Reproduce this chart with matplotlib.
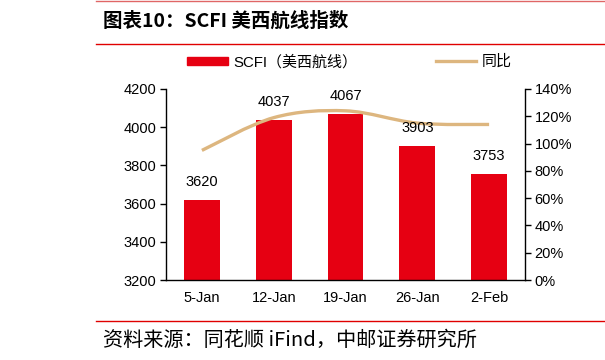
import matplotlib
matplotlib.use('Agg')
import matplotlib.pyplot as plt
from matplotlib.path import Path
from matplotlib.patches import PathPatch, Patch
from matplotlib.lines import Line2D

plt.rcParams['font.family'] = ['Liberation Sans', 'Noto Sans CJK SC', 'DejaVu Sans']

# data
weeks = ['5-Jan', '12-Jan', '19-Jan', '26-Jan', '2-Feb']
scfi = [3620, 4037, 4067, 3903, 3753]
yoy = [95, 119, 124, 115, 114]

bar_color = '#E60012'
line_color = '#DDB67F'


def smooth_path(xs, ys):
    # bezier segments through the points (catmull-rom style, like excel smoothing)
    pts = list(zip(xs, ys))
    verts = [pts[0]]
    codes = [Path.MOVETO]
    n = len(pts)
    for i in range(n - 1):
        p0 = pts[i - 1] if i > 0 else pts[i]
        p1 = pts[i]
        p2 = pts[i + 1]
        p3 = pts[i + 2] if i + 2 < n else pts[i + 1]
        c1 = (p1[0] + (p2[0] - p0[0]) / 6, p1[1] + (p2[1] - p0[1]) / 6)
        c2 = (p2[0] - (p3[0] - p1[0]) / 6, p2[1] - (p3[1] - p1[1]) / 6)
        verts += [c1, c2, p2]
        codes += [Path.CURVE4] * 3
    return Path(verts, codes)


fig = plt.figure(figsize=(6.05, 3.6), dpi=100)
ax = fig.add_axes([0.2744, 0.2222, 0.5934, 0.5306])

x = list(range(len(weeks)))
ax.bar(x, scfi, width=0.5, color=bar_color, zorder=2)

ax.set_ylim(3200, 4200)
ax.set_yticks(range(3200, 4201, 200))
ax.set_xlim(-0.5, 4.5)
ax.set_xticks(x)
ax.set_xticklabels(weeks)
ax.tick_params(axis='x', length=0, pad=8, labelsize=10.5)
ax.tick_params(axis='y', length=4, width=1, labelsize=10.5, pad=3)
for s in ['top', 'right']:
    ax.spines[s].set_visible(False)
ax.spines['left'].set_linewidth(1)
ax.spines['bottom'].set_linewidth(1)

ax2 = ax.twinx()
ax2.set_ylim(0, 140)
ax2.set_yticks(range(0, 141, 20))
ax2.set_yticklabels([f'{v}%' for v in range(0, 141, 20)])
ax2.tick_params(axis='y', length=4, width=1, labelsize=10.5, pad=3)
for s in ['top', 'left', 'bottom']:
    ax2.spines[s].set_visible(False)
ax2.spines['right'].set_linewidth(1)
ax2.add_patch(PathPatch(smooth_path(x, yoy), facecolor='none',
                        edgecolor=line_color, lw=2.4, capstyle='butt', zorder=3))

# value labels on top of the line
for xi, v in zip(x, scfi):
    ax2.annotate(str(v), (xi, v), xycoords=ax.transData, xytext=(0, 13),
                 textcoords='offset points', ha='center', va='center',
                 fontsize=10.5, zorder=5)

handles = [Patch(color=bar_color, label='SCFI（美西航线）'),
           Line2D([], [], color=line_color, lw=2.4, label='同比')]
fig.legend(handles=handles, loc='center', bbox_to_anchor=(0.578, 0.828), ncol=2,
           frameon=False, handlelength=2.7, handleheight=0.5,
           handletextpad=0.4, columnspacing=5.2,
           prop={'family': ['Liberation Sans', 'Noto Sans CJK SC'], 'size': 10.8})

# header / footer
fig.add_artist(Line2D([96 / 605, 1], [1 - 0.5 / 360] * 2, color='#E06666', lw=1))
fig.add_artist(Line2D([96 / 605, 1], [1 - 44 / 360] * 2, color='#E00000', lw=1))
fig.add_artist(Line2D([96 / 605, 1], [1 - 321 / 360] * 2, color='#E00000', lw=1))
fig.text(103 / 605, 1 - 21 / 360, '图表10：SCFI 美西航线指数', fontsize=14,
         fontweight='bold', va='center', ha='left',
         family=['Noto Sans CJK SC', 'DejaVu Sans'])
fig.text(103 / 605, 1 - 340 / 360, '资料来源：同花顺 iFind，中邮证券研究所', fontsize=14.5,
         va='center', ha='left', family=['Noto Sans CJK SC', 'DejaVu Sans'])

fig.savefig('out.png', dpi=100)
